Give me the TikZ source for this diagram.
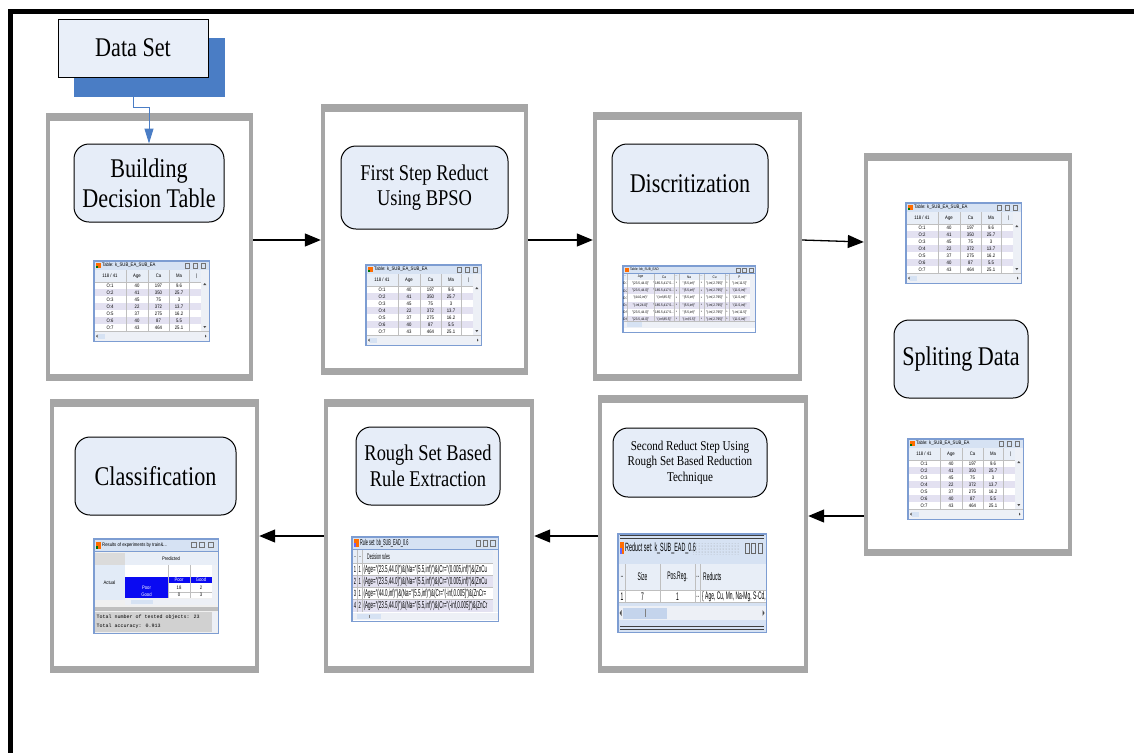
\documentclass[tikz,border=0pt]{standalone}
\usepackage{fontspec}
\setmainfont[FakeStretch=0.82]{Liberation Serif}
\newfontfamily\uifont[FakeStretch=0.85]{Liberation Sans}
\newfontfamily\uinarrow[FakeStretch=0.45]{Liberation Sans}
\newfontfamily\uimono{Liberation Mono}
\usetikzlibrary{positioning,arrows.meta,calc,patterns}

\definecolor{panelgray}{HTML}{A6A6A6}
\definecolor{stagefill}{HTML}{E6EDF8}
\definecolor{dsfill}{HTML}{E9EFF9}
\definecolor{dsblue}{HTML}{4A7DC5}
\definecolor{winframe}{HTML}{7D9DD2}
\definecolor{wintitle}{HTML}{D6E2F3}
\definecolor{winhead}{HTML}{E8EEF7}
\definecolor{rowalt}{HTML}{E3E1F1}
\definecolor{scrollbg}{HTML}{EDF0F6}
\definecolor{cellblue}{HTML}{0A0AF2}

\tikzset{
  wintext/.style={font=\uifont\fontsize{5}{6}\selectfont, inner sep=0pt},
  wintiny/.style={font=\uifont\fontsize{3.6}{4}\selectfont, inner sep=0pt},
  winmono/.style={font=\uimono\fontsize{5}{6}\selectfont, inner sep=0pt},
  narrowtext/.style={font=\uinarrow\fontsize{#1}{#1}\selectfont, inner sep=0pt},
  gridline/.style={black!25, line width=0.3pt},
  winbtn/.style={black!55, line width=0.4pt},
  tablewin/.pic={
    \fill[winframe] (0,0) rectangle (117,82);
    \fill[wintitle] (1.5,1.5) rectangle (115.5,9.5);
    \fill[white] (1.5,10) rectangle (115.5,80.5);
    \fill[orange!85!red] (3,3) rectangle (7.5,8);
    \fill[green!45!black] (3,5.5) rectangle (5.2,8);
    \node[wintext, anchor=west] at (9,5.6) {Table: k\_SUB\_EA\_SUB\_EA};
    \foreach \u in {92,100,108}
      \draw[winbtn] (\u,3.5) rectangle ++(4.5,4.5);
    \fill[winhead] (1.5,10) rectangle (108,21.5);
    \foreach \id/\va/\vb/\vc [count=\rownum] in {O:1/40/197/9.6, O:2/41/350/25.7,
        O:3/45/75/3, O:4/22/372/13.7, O:5/37/275/16.2, O:6/40/87/5.5, O:7/43/464/25.1} {
      \ifodd\rownum \def\rowcol{white}\else \def\rowcol{rowalt}\fi
      \fill[\rowcol] (1.5,15+7*\rownum) rectangle (108,22+7*\rownum);
      \node[wintext] at (17,18.5+7*\rownum) {\id};
      \node[wintext] at (44,18.5+7*\rownum) {\va};
      \node[wintext] at (65.5,18.5+7*\rownum) {\vb};
      \node[wintext] at (86,18.5+7*\rownum) {\vc};
    }
    \node[wintext] at (17,15.8) {118 / 41};
    \node[wintext] at (44,15.8) {Age};
    \node[wintext] at (65.5,15.8) {Ca};
    \node[wintext] at (86,15.8) {Ma};
    \node[wintext] at (104,15.8) {|};
    \foreach \u in {33,55,76,96}
      \draw[gridline] (\u,10) -- (\u,71);
    \draw[gridline] (1.5,21.7) -- (108,21.7);
    \fill[scrollbg] (108,10) rectangle (115.5,71);
    \fill[black!70] (110.3,25) -- (113.3,25) -- (111.8,23) -- cycle;
    \fill[black!70] (110.3,66) -- (113.3,66) -- (111.8,68) -- cycle;
    \fill[scrollbg] (1.5,72) rectangle (115.5,80.5);
    \draw[gridline] (1.5,71.5) -- (115.5,71.5);
    \fill[wintitle] (5,73.5) rectangle (12,79);
    \fill[black!70] (3,76.2) -- (4.5,74.7) -- (4.5,77.7) -- cycle;
    \fill[black!70] (113.5,76.2) -- (112,74.7) -- (112,77.7) -- cycle;
  }
}

\begin{document}
\begin{tikzpicture}[x=1pt, y=-1pt,
  panel/.style={fill=panelgray, inner sep=0pt,
    path picture={\fill[white] ([xshift=4pt,yshift=-8pt]path picture bounding box.north west)
      rectangle ([xshift=-4pt,yshift=7pt]path picture bounding box.south east);}},
  stage/.style={draw, line width=1pt, fill=stagefill, rounded corners=15pt, align=center, inner sep=0pt},
  bigtext/.style={font=\fontsize{27}{30}\selectfont},
  midtext/.style={font=\fontsize{22.5}{25.5}\selectfont},
  smalltext/.style={font=\fontsize{13.5}{15.5}\selectfont},
  dsfront/.style={draw, line width=0.8pt, fill=dsfill, inner sep=0pt},
  dsshadow/.style={fill=dsblue, inner sep=0pt},
  flow/.style={line width=1.3pt, -{Triangle[length=16pt,width=13pt]}},
  link/.style={dsblue, line width=1pt, -{Triangle[length=15pt,width=9pt]}}]
\useasboundingbox (0,0) rectangle (1134,753);
\fill (8,9) rectangle (1134,14);
\fill (8,9) rectangle (13,753);

\node[panel, minimum width=207pt, minimum height=268pt] (p1) at (149.5,247) {};
\node[panel, minimum width=207pt, minimum height=271pt] (p2) at (424.5,239.5) {};
\node[panel, minimum width=209pt, minimum height=269pt] (p3) at (697.5,246.5) {};
\node[panel, minimum width=208pt, minimum height=403pt] (p4) at (968,354.5) {};
\node[panel, minimum width=210pt, minimum height=278pt] (p5) at (703,534) {};
\node[panel, minimum width=210pt, minimum height=274pt] (p6) at (429,536) {};
\node[panel, minimum width=209pt, minimum height=274pt] (p7) at (154.5,536) {};

\node[stage, bigtext, minimum width=150pt, minimum height=78pt] (build) at (149,183) {Building\\Decision Table};
\node[stage, midtext, minimum width=167pt, minimum height=83pt] (bpso) at (424.5,187.5) {First Step Reduct\\Using BPSO};
\node[stage, bigtext, minimum width=156pt, minimum height=79pt] (discr) at (690,183.5) {Discritization};
\node[stage, bigtext, minimum width=134pt, minimum height=78pt] (split) at (961,359) {Spliting Data};
\node[stage, smalltext, minimum width=154pt, minimum height=69pt] (rsred) at (690,462.5) {Second Reduct Step Using\\Rough Set Based Reduction\\Technique};
\node[stage, midtext, minimum width=144pt, minimum height=78pt] (rules) at (428,466) {Rough Set Based\\Rule Extraction};
\node[stage, bigtext, minimum width=161pt, minimum height=78pt] (classify) at (155.5,476) {Classification};

\node[dsshadow, minimum width=151pt, minimum height=59pt] (dsb) at (149.5,67.5) {};
\node[dsfront, bigtext, minimum width=150pt, minimum height=58pt] (ds) at (133,48) {Data Set};
\draw[link] (ds.south |- dsb.south) -- ++(0,10) -| (build.north);

% table windows
\pic (shot1) at (93,260) {tablewin};
\pic (shot2) at (365,264) {tablewin};
\pic (shot4) at (905,202) {tablewin};
\pic (shot5) at (907,438) {tablewin};

% discretized table
\begin{scope}[shift={(622,265)}]
  \fill[winframe] (0,0) rectangle (134,68);
  \fill[wintitle] (1.5,1.5) rectangle (132.5,8);
  \fill[white] (1.5,8.5) rectangle (132.5,66.5);
  \fill[orange!85!red] (3,2.5) rectangle (6.5,7);
  \node[wintiny, anchor=west] at (8,4.8) {Table: bb\_SUB\_EAD};
  \foreach \u in {114,120.5,127}
    \draw[winbtn] (\u,2.8) rectangle ++(4,4);
  \fill[winhead] (1.5,8.5) rectangle (128,15);
  \foreach \id/\va/\vb/\vc/\vd/\ve [count=\rownum] in {
      O:1/{"(23.5,44.0]"}/{"(185.5,417.5..."}/{"(5.5,inf)"}/{"(-inf,2.795]"}/{"(-inf,11.5]"},
      O:2/{"(23.5,44.0]"}/{"(185.5,417.5..."}/{"(5.5,inf)"}/{"(-inf,2.795]"}/{"(11.5,inf)"},
      O:3/{"(44.0,inf)"}/{"(-inf,85.5]"}/{"(5.5,inf)"}/{"(-inf,2.795]"}/{"(11.5,inf)"},
      O:4/{"(-inf,24.0]"}/{"(185.5,417.5..."}/{"(5.5,inf)"}/{"(-inf,2.795]"}/{"(11.5,inf)"},
      O:5/{"(23.5,44.0]"}/{"(185.5,417.5..."}/{"(5.5,inf)"}/{"(-inf,2.795]"}/{"(-inf,11.5]"},
      O:6/{"(23.5,44.0]"}/{"(-inf,85.5]"}/{"(-inf,5.5]"}/{"(-inf,2.795]"}/{"(11.5,inf)"}} {
    \ifodd\rownum \def\rowcol{white}\else \def\rowcol{rowalt}\fi
    \fill[\rowcol] (1.5,7.8+7.2*\rownum) rectangle (128,15+7.2*\rownum);
    \node[wintiny] at (3.5,11.4+7.2*\rownum) {\id};
    \node[wintiny] at (18.5,11.4+7.2*\rownum) {\va};
    \node[wintiny] at (42,11.4+7.2*\rownum) {\vb};
    \node[wintiny] at (67,11.4+7.2*\rownum) {\vc};
    \node[wintiny] at (92.5,11.4+7.2*\rownum) {\vd};
    \node[wintiny] at (117.5,11.4+7.2*\rownum) {\ve};
    \foreach \s in {54.5,79.5,105}
      \node[wintiny] at (\s,11.4+7.2*\rownum) {*};
  }
  \foreach \h/\x in {../3,Age/18.5,Ca/42,../54.5,Na/67,../79.5,Cu/92.5,../105,P/117.5}
    \node[wintiny] at (\x,11.8) {\h};
  \foreach \u in {5,32,52,57,77,82,103,107}
    \draw[gridline] (\u,8.5) -- (\u,56);
  \fill[scrollbg] (128,8.5) rectangle (132.5,56);
  \fill[scrollbg] (1.5,56) rectangle (132.5,63);
  \fill[wintitle] (5,57) rectangle (20,62);
  \draw[gridline] (1.5,56) -- (132.5,56);
\end{scope}

% reduct set
\begin{scope}[shift={(617,533)}]
  \fill[winframe] (0,0) rectangle (150,100);
  \fill[wintitle] (1.5,1.5) rectangle (148.5,98.5);
  \draw[black!75, line width=0.7pt] (3,2.5) -- (147,2.5) (3,5) -- (147,5);
  \draw[black!75, line width=0.7pt] (3,93) -- (147,93) (3,96.5) -- (147,96.5);
  \fill[orange!85!red] (2.5,9) rectangle (7,21);
  \fill[blue!60] (2.5,15) rectangle (4.8,21);
  \node[narrowtext=12, anchor=west] at (8,15) {Reduct set: k\_SUB\_EAD\_0.6};
  \fill[pattern=dots, pattern color=black!40] (76,10) rectangle (122,21);
  \foreach \u in {128,134.5,141}
    \draw[black!60, line width=0.5pt] (\u,10) rectangle ++(4,10);
  \fill[winhead] (1.5,31) rectangle (148.5,57);
  \fill[white] (1.5,57) rectangle (148.5,69.5);
  \foreach \u in {8.3,43,78.3,83.3}
    \draw[gridline, line width=0.5pt] (\u,31) -- (\u,69.5);
  \draw[gridline, line width=0.5pt] (1.5,57) -- (148.5,57) (1.5,69.5) -- (148.5,69.5);
  \foreach \h/\x in {../5,Size/25.5,Pos.Reg./60.5,../80.8}
    \node[narrowtext=11] at (\x,44) {\h};
  \node[narrowtext=11, anchor=west] at (86,44) {Reducts};
  \foreach \h/\x in {1/5,7/25.5,1/60.5,../80.8}
    \node[narrowtext=11] at (\x,63.5) {\h};
  \begin{scope}
    \clip (84,57) rectangle (148.5,69.5);
    \node[narrowtext=11, anchor=west] at (85,63.5) {\{ Age, Cu, Mn, Na-Mg, S-Cd, (};
  \end{scope}
  \fill[scrollbg] (1.5,73) rectangle (148.5,87);
  \fill[wintitle!80!winframe] (6,74.5) rectangle (50,85.5);
  \draw[black!50, line width=0.4pt] (28,76) -- (28,84);
  \fill[black!70] (2.5,80) -- (4.5,77) -- (4.5,83) -- cycle;
  \fill[black!70] (147.5,80) -- (145.5,77) -- (145.5,83) -- cycle;
\end{scope}

% decision rules
\begin{scope}[shift={(351,536)}]
  \fill[winframe] (0,0) rectangle (148,86);
  \fill[wintitle] (1.5,1.5) rectangle (146.5,13);
  \fill[white] (1.5,13.5) rectangle (146.5,84.5);
  \fill[orange!85!red] (3,3) rectangle (7.5,11);
  \fill[blue!60] (3,7) rectangle (5,11);
  \node[narrowtext=8.5, anchor=west] at (9,7.2) {Rule set: bb\_SUB\_EAD\_0.6};
  \foreach \u in {125,132,139.5}
    \draw[winbtn] (\u,4) rectangle ++(4.5,6);
  \fill[winhead] (1.5,14) rectangle (142,27.5);
  \fill[rowalt] (1.5,39.5) rectangle (142,51.5);
  \fill[rowalt] (1.5,63.5) rectangle (142,75.5);
  \foreach \u in {6.5,11}
    \draw[gridline] (\u,14) -- (\u,76);
  \foreach \v in {27.5,39.5,51.5,63.5}
    \draw[gridline] (1.5,\v) -- (142,\v);
  \node[narrowtext=8] at (4,21) {..};
  \node[narrowtext=8] at (8.8,21) {..};
  \node[narrowtext=8, anchor=west] at (16,21) {Decision rules};
  \foreach \a/\b [count=\rownum] in {1/1,2/1,3/1,4/2} {
    \node[narrowtext=9] at (4,21.5+12*\rownum) {\a};
    \node[narrowtext=9] at (8.8,21.5+12*\rownum) {\b};
  }
  \begin{scope}
    \clip (11.5,27.5) rectangle (142,76);
    \node[narrowtext=10, anchor=west] at (12.5,33.5) {(Age="(23.5,44.0]")\&(Na="(5.5,inf)")\&(Cr="(0.005,inf)")\&(ZnCu};
    \node[narrowtext=10, anchor=west] at (12.5,45.5) {(Age="(23.5,44.0]")\&(Na="(5.5,inf)")\&(Cr="(0.005,inf)")\&(ZnCu};
    \node[narrowtext=10, anchor=west] at (12.5,57.5) {(Age="(44.0,inf)")\&(Na="(5.5,inf)")\&(Cr="(-inf,0.005]")\&(ZnCr=};
    \node[narrowtext=10, anchor=west] at (12.5,69.5) {(Age="(23.5,44.0]")\&(Na="(5.5,inf)")\&(Cr="(-inf,0.005]")\&(ZnCr};
  \end{scope}
  \fill[scrollbg] (142,14) rectangle (146.5,76);
  \fill[scrollbg] (1.5,76.5) rectangle (146.5,84);
  \fill[wintitle] (6,77.5) rectangle (30,83);
  \draw[black!50, line width=0.4pt] (18,78.5) -- (18,82);
\end{scope}

% classification results
\begin{scope}[shift={(93,538)}]
  \fill[winframe] (0,0) rectangle (126,96);
  \fill[wintitle] (1.5,1.5) rectangle (124.5,13);
  \fill[black!6] (1.5,13.5) rectangle (124.5,94.5);
  \fill[orange!85!red] (3,3.5) rectangle (7.5,11);
  \fill[green!45!black] (3,7.5) rectangle (5,11);
  \node[wintext, anchor=west] at (9,7.3) {Results of experiments by train\&...};
  \foreach \u in {98,106,115}
    \draw[winbtn] (\u,4.5) rectangle ++(5,5);
  \fill[black!14] (2,15) rectangle (31.5,26.5);
  \fill[winhead] (32,15) rectangle (124,26.5);
  \node[wintext] at (78,20.7) {Predicted};
  \fill[wintitle!70] (2,27) rectangle (31.5,62);
  \node[wintext] at (16.5,44.5) {Actual};
  \fill[white] (32,27) rectangle (119,38.7);
  \fill[cellblue] (32,38.7) rectangle (119,60.3);
  \fill[white] (75.5,45.3) rectangle (119,60.3);
  \draw[gridline] (75.5,27) -- (75.5,60.3) (97,27) -- (97,60.3) (75.5,53.7) -- (119,53.7);
  \node[wintext, white] at (86,42) {Poor};
  \node[wintext, white] at (108,42) {Good};
  \node[wintext, white] at (53.5,49.5) {Poor};
  \node[wintext, white] at (53.5,57) {Good};
  \node[wintext] at (86,49.5) {18};
  \node[wintext] at (108,49.5) {2};
  \node[wintext] at (86,57) {0};
  \node[wintext] at (108,57) {3};
  \fill[scrollbg] (119,27) rectangle (124,61);
  \fill[scrollbg] (32,61) rectangle (124,67);
  \fill[wintitle] (38,62) rectangle (60,66);
  \fill[black!25] (1.5,69) rectangle (124.5,73);
  \fill[black!18] (2,73.5) rectangle (118.5,94);
  \fill[scrollbg] (119,73.5) rectangle (124,94);
  \node[winmono, anchor=west] at (3.5,79) {Total number of tested objects: 23};
  \node[winmono, anchor=west] at (3.5,88.5) {Total accuracy: 0.913};
\end{scope}

\coordinate (row1) at (0,240);
\coordinate (row1b) at (0,242);
\coordinate (row2) at (0,516);
\coordinate (row3) at (0,536);
\draw[flow] (p1.east |- row1) -- (p2.west |- row1);
\draw[flow] (p2.east |- row1) -- (p3.west |- row1);
\draw[flow] (p3.east |- row1) -- (p4.west |- row1b);
\draw[flow] (p4.west |- row2) -- (p5.east |- row2);
\draw[flow] (p5.west |- row3) -- (p6.east |- row3);
\draw[flow] (p6.west |- row3) -- (p7.east |- row3);
\end{tikzpicture}
\end{document}
